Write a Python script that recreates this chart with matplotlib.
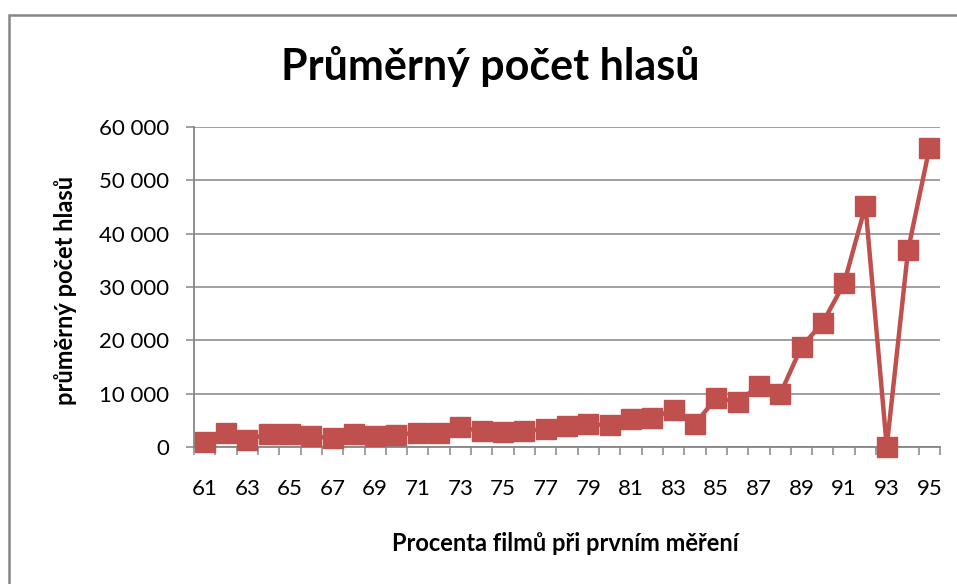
import matplotlib.pyplot as plt
from matplotlib.patches import Rectangle
from matplotlib.ticker import FuncFormatter, FixedLocator

plt.rcParams['font.family'] = ['Lato', 'DejaVu Sans']

procenta = list(range(61, 96))
hlasy = [1050, 2620, 1370, 2550, 2550, 2120, 1680, 2490, 2180, 2370,
         2740, 2680, 3740, 2990, 2870, 2990, 3490, 3990, 4300, 4180,
         5360, 5550, 6990, 4300, 9290, 8430, 11540, 9930, 18840, 23330,
         30710, 45190, 100, 36950, 56000]

red = '#C0504D'
grey = '#868686'

fig = plt.figure(figsize=(9.57, 5.84), dpi=100)
ax = fig.add_axes([0.2027, 0.2341, 0.7796, 0.5489])

xpos = list(range(len(procenta)))
ax.plot(xpos, hlasy, color=red, linewidth=3.2, marker='s', markersize=14,
        markerfacecolor=red, markeredgecolor=red, clip_on=False, zorder=3)

ax.set_xlim(-0.5, len(procenta) - 0.5)
ax.set_ylim(0, 60000)
ax.set_yticks(range(0, 60001, 10000))
ax.yaxis.set_major_formatter(FuncFormatter(lambda v, p: f'{int(v):,}'.replace(',', ' ')))
ax.grid(axis='y', color=grey, linewidth=1.1)
ax.set_axisbelow(True)

ax.set_xticks(xpos[::2])
ax.set_xticklabels([str(p) for p in procenta[::2]])
ax.xaxis.set_minor_locator(FixedLocator([i - 0.5 for i in range(len(procenta) + 1)]))
ax.tick_params(axis='x', which='major', length=0, pad=23, labelsize=16)
ax.tick_params(axis='x', which='minor', length=6, width=1.1, color=grey)
ax.tick_params(axis='y', length=6, width=1.1, color=grey, labelsize=16, pad=12)

for s in ['top', 'right']:
    ax.spines[s].set_visible(False)
for s in ['left', 'bottom']:
    ax.spines[s].set_color(grey)
    ax.spines[s].set_linewidth(1.3)

fig.text(0.512, 0.886, 'Průměrný počet hlasů', ha='center', va='center',
         fontsize=31, fontweight='bold')
fig.text(0.068, 0.503, 'průměrný počet hlasů', ha='center', va='center',
         rotation=90, fontsize=17, fontweight='bold')
fig.text(0.591, 0.07, 'Procenta filmů při prvním měření', ha='center', va='center',
         fontsize=17, fontweight='bold')

fig.patches.append(Rectangle((9 / 957, -0.1), 1.1, 1.1 - 15 / 584,
                             transform=fig.transFigure, fill=False,
                             edgecolor=grey, linewidth=1.8))

fig.savefig('out.png', dpi=100, facecolor='white')
